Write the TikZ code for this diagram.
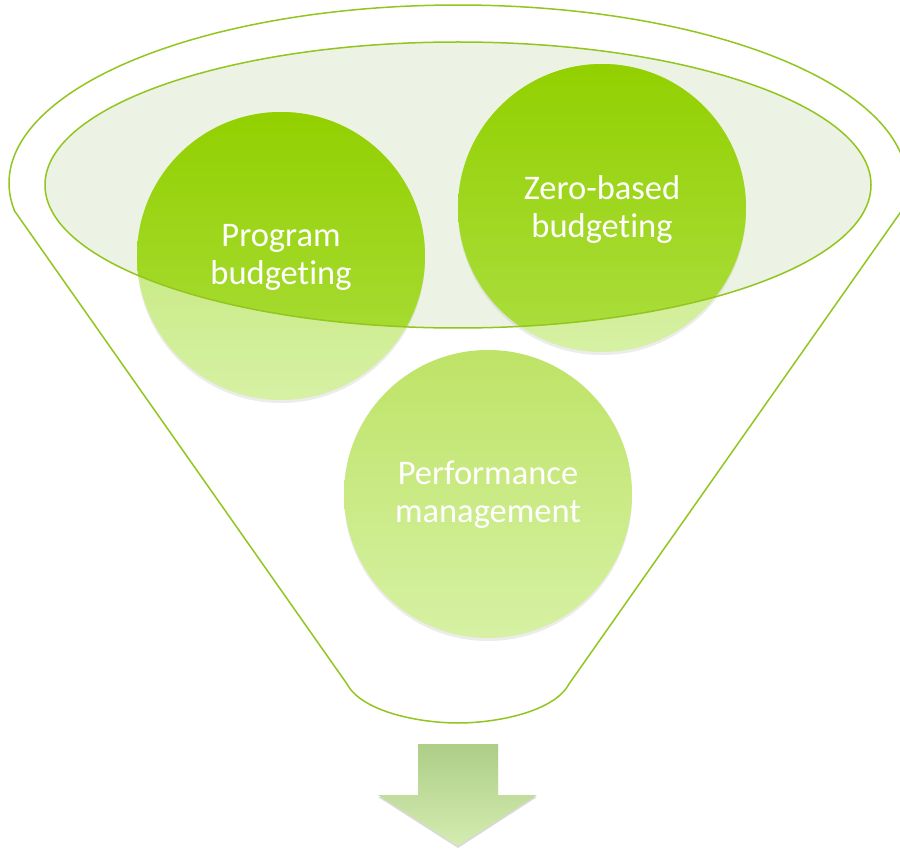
\documentclass[tikz,border=0pt]{standalone}
\usepackage{fontspec}
\setmainfont{Carlito}[RawFeature={-liga;-clig;-calt;-dlig}]
\usetikzlibrary{shadows}
\definecolor{rim}{RGB}{146,198,30}
\definecolor{ellfill}{RGB}{236,242,228}
\definecolor{satTop}{RGB}{146,208,0}
\definecolor{satBot}{RGB}{172,222,64}
\definecolor{paleTop}{RGB}{190,227,102}
\definecolor{paleBot}{RGB}{214,241,164}
\definecolor{arrTop}{RGB}{173,205,136}
\definecolor{arrBot}{RGB}{212,236,176}
\begin{document}
\begin{tikzpicture}[x=1pt,y=-1pt,
  rimline/.style={draw=rim, line width=1.5pt, line join=round},
  bubble/.style={circle, minimum size=288pt, inner sep=0pt, top color=paleTop, bottom color=paleBot,
     drop shadow={opacity=0.15, shadow xshift=0pt, shadow yshift=-3pt}},
  bubbletext/.style={text=white, align=center, font=\fontsize{34.5}{38}\selectfont},
  satshade/.style={top color=satTop, bottom color=satBot},
]
\useasboundingbox (0,0) rectangle (900,850);
% funnel outline
\draw[rimline, fill=white] plot[domain=170.95:369.05, samples=160] ({458+449*cos(\x)}, {183+178*sin(\x)})
  -- (569,684) .. controls (554,712) and (496,723) .. (458,723)
  .. controls (420,723) and (362,712) .. (347,684) -- cycle;
% inner ellipse fill
\fill[ellfill] (458,185) ellipse[x radius=413pt, y radius=143pt];
% circles
\node[bubble] (pb) at (281,256) {};
\node[bubble] (zb) at (602,208) {};
\node[bubble] (pm) at (488,494) {};
% saturated parts inside the ellipse
\begin{scope}
  \clip (458,185) ellipse[x radius=413pt, y radius=143pt];
  \shade[satshade] (pb.center) circle[radius=144pt];
  \shade[satshade] (zb.center) circle[radius=144pt];
\end{scope}
% ellipse border
\draw[rimline] (458,185) ellipse[x radius=413pt, y radius=143pt];
% texts
\node[bubbletext] (pbt) at ([yshift=-1pt]pb) {Program\\budget\kern0pt ing};
\node[bubbletext] (zbt) at ([yshift=-1pt]zb) {Zero-based\\budget\kern0pt ing};
\node[bubbletext] (pmt) at ([yshift=-1pt]pm) {Performance\\management};
% arrow
\shade[top color=arrTop, bottom color=arrBot, drop shadow={opacity=0.3, shadow xshift=0pt, shadow yshift=-2pt}]
  (418,744) -- (498,744) -- (498,795) -- (537,795) -- (458,846) -- (378,795) -- (418,795) -- cycle;
\end{tikzpicture}
\end{document}
